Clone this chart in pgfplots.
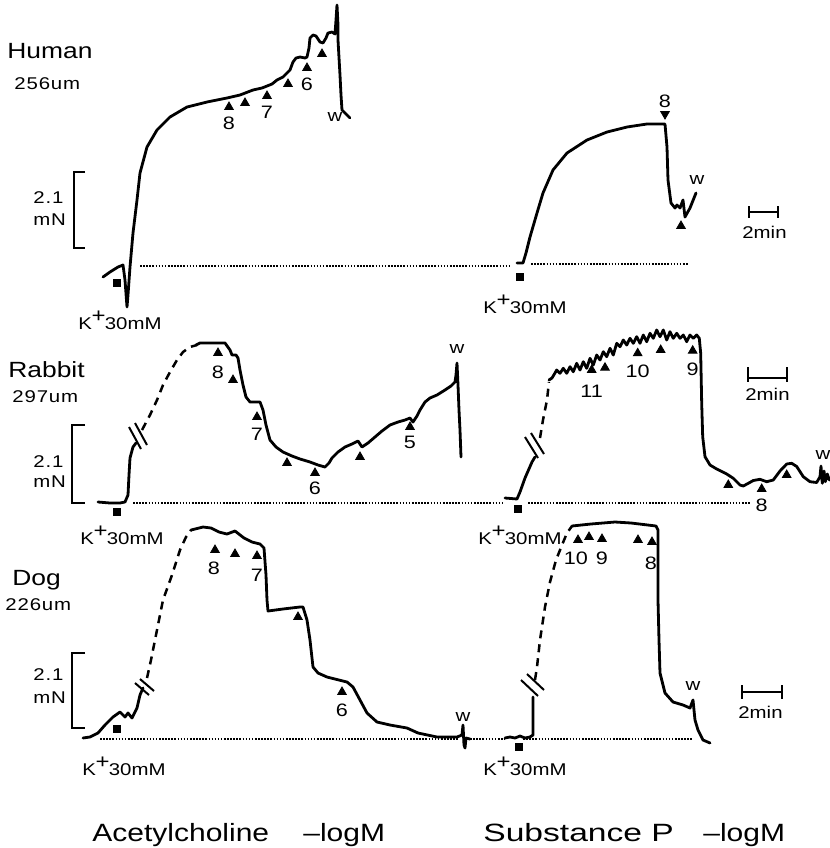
\documentclass[border=0pt]{standalone}
\usepackage{pgfplots}
\pgfplotsset{compat=1.18}
\usepackage{fontspec}
\setmainfont[FakeStretch=1.2]{Liberation Sans}
\newcommand\biglab{\fontsize{11}{11}\selectfont}
\newcommand\sublab{\fontsize{8.5}{8.5}\selectfont\addfontfeature{LetterSpace=5}}
\newcommand\numlab{\fontsize{9}{9}\selectfont}
\newcommand\klab{\fontsize{8.5}{8.5}\selectfont}
\newcommand\wlab{\fontsize{8.5}{8.5}\selectfont}
\newcommand\botlab{\fontsize{12.5}{12.5}\selectfont}
\newcommand\Kplus{K\kern-0.02em\raisebox{0.36em}{\fontsize{10}{10}\selectfont+}\kern-0.05em30mM}
\begin{document}
\begin{tikzpicture}[
  lab/.style={inner sep=0pt, anchor=base west},
  clab/.style={inner sep=0pt, anchor=center},
]
\begin{axis}[
  width=415pt, height=424pt, scale only axis,
  xmin=0, xmax=830, ymin=0, ymax=848, y dir=reverse,
  hide axis, clip=false,
  trace/.style={black, line width=1.4pt, line join=round, line cap=round, mark=none},
  gap/.style={black, line width=1.25pt, dash pattern=on 4pt off 3pt, mark=none},
  base/.style={black, line width=1.0pt, dash pattern=on 0.8pt off 0.75pt, mark=none},
  brk/.style={black, line width=1.0pt, mark=none},
  scl/.style={black, line width=1.3pt, mark=none},
  up/.style={only marks, mark=triangle*, mark size=2.5pt, black},
  down/.style={only marks, mark=triangle*, mark size=2.5pt, black, mark options={rotate=180}},
  sq/.style={only marks, mark=square*, mark size=1.6pt, black},
]

% ---------------- Human ----------------
\addplot[trace] coordinates {(103,277) (110,272) (118,267) (123,265) (125,280) (127,307) (128,295) (130,267) (133,233) (137,200) (140,173) (147,147) (157,130) (170,117) (187,107) (207,102) (227,98) (240,95) (253,90) (262,88) (267,86) (272,84) (277,80) (283,77) (287,73) (290,70) (293,62) (296,58) (300,57) (305,58) (307,57) (309,48) (310,38) (313,35) (316,36) (320,42) (323,43) (326,38) (328,33) (332,32) (335,34) (336,20) (337,5) (338,25) (338,40) (340,75) (341,95) (342,110) (345,113) (350,118)};
\addplot[trace] coordinates {(517,263) (523,263) (526,253) (530,237) (537,213) (543,193) (553,170) (567,153) (587,140) (607,132) (627,127) (647,124) (665,124) (667,147) (668,180) (671,203) (675,208) (677,205) (680,208) (683,200) (685,217) (690,208) (696,193)};
\addplot[base] coordinates {(140,266) (511,266)};
\addplot[base] coordinates {(531,264) (688,264)};
\addplot[up] coordinates {(229,107) (245,103) (267,96) (288,84) (307,68) (322,54) (681,226)};
\addplot[down] coordinates {(665,114)};
\addplot[sq] coordinates {(117,283) (520,277)};
% bracket and time bar
\addplot[scl] coordinates {(85,172) (74,172) (74,248) (85,248)};
\addplot[scl] coordinates {(749,212) (778,212)};
\addplot[scl] coordinates {(749,206) (749,218)};
\addplot[scl] coordinates {(778,206) (778,218)};

% ---------------- Rabbit ----------------
\addplot[trace] coordinates {(98,502) (110,503) (120,503) (125,502) (128,495) (129,475) (130,458) (133,447) (136,443)};
\addplot[gap] coordinates {(142,430) (150,415) (157,400) (163,385) (170,372) (177,360) (183,352) (190,347) (197,345)};
\addplot[trace] coordinates {(196,345) (200,343) (210,343) (225,343) (230,350) (232,355) (236,355) (238,358) (240,370) (243,385) (246,397) (250,402) (256,402) (260,402) (263,410) (266,425) (270,440) (276,447) (283,452) (292,456) (300,459) (310,462) (318,465) (325,467) (329,463) (332,458) (338,452) (345,447) (352,444) (358,441) (362,447) (368,443) (375,437) (382,431) (390,425) (398,422) (405,420) (410,418) (413,422) (417,416) (420,410) (425,402) (430,398) (437,395) (445,390) (451,386) (455,382) (456,375) (457,363) (458,385) (459,410) (460,430) (461,457)};
\addplot[brk] coordinates {(129,427) (141,449)};
\addplot[brk] coordinates {(135,423) (147,445)};
\addplot[trace] coordinates {(505,498) (517,499) (520,492) (525,478) (532,462) (535,457)};
\addplot[brk] coordinates {(525,437) (538,458)};
\addplot[brk] coordinates {(531,433) (544,454)};
\addplot[gap] coordinates {(540,438) (543,420) (547,400) (549,382)};
\addplot[trace] coordinates {(549,380) (552,378) (555,373) (556.7,370) (560,373.3) (563.3,368.3) (566.7,373.3) (570,366.7) (573.3,371.7) (576.7,363.3) (580,370) (583.3,361.7) (586.7,368.3) (590,358.3) (593.3,365) (596.7,355) (600,360) (603.3,351.7) (606.7,356.7) (610,348.3) (613.3,355) (616.7,343.3) (620,346.7) (623.3,340) (626.7,345) (630,338.3) (633.3,343.3) (636.7,336.7) (640,343.3) (643.3,335) (646.7,341.7) (650,333.3) (653.3,338.3) (656.7,330) (660,336.7) (663.3,330) (666.7,340) (670,331.7) (673.3,338.3) (676.7,333.3) (680,338.3) (683.3,335) (686.7,341.7) (690,335) (693.3,338.3) (696.7,335) (699.3,338.3) (700.7,353.3) (701.7,403.3) (702.7,436.7) (705,456.7) (710,465) (716.7,469) (726.7,474) (733.3,478.3) (740,485) (743.3,486) (748.3,483.3) (753.3,480.5) (760,479.3) (766.7,481.7) (773.3,480) (780,471) (786.7,464) (791.7,463.3) (796.7,466.5) (803.3,476.7) (810,481.7) (816.7,482.5) (820,476.7) (821,466) (822.3,483.3) (824,471) (825.3,481.7) (827.3,474) (829.3,480)};
\addplot[base] coordinates {(133,503) (504,503)};
\addplot[base] coordinates {(528,503) (750,503)};
\addplot[up] coordinates {(218,353) (233,380) (257,417) (287,463) (315,473) (360,457) (410,427) (591.7,370) (605,367.7) (637.7,353.3) (660.7,350) (692.7,350.7) (728.3,485) (761.7,489) (786.7,475)};
\addplot[sq] coordinates {(117,512) (518,509)};
\addplot[scl] coordinates {(85,425) (72,425) (72,503) (85,503)};
\addplot[scl] coordinates {(748,378) (787,378)};
\addplot[scl] coordinates {(748,367) (748,382)};
\addplot[scl] coordinates {(787,367) (787,382)};

% ---------------- Dog ----------------
\addplot[trace] coordinates {(83,738) (90,737) (98,733) (105,725) (113,717) (120,712) (125,717) (128,713) (132,718) (137,708) (140,695) (143,688)};
\addplot[brk] coordinates {(135,683) (149,695)};
\addplot[brk] coordinates {(140,679) (154,691)};
\addplot[gap] coordinates {(147,678) (151,660) (157,630) (163,600) (172,575) (180,550) (186,537) (191,530)};
\addplot[trace] coordinates {(191,530) (203,527) (211,528) (219,532) (227,534) (235,531) (244,538) (252,542) (260,544) (264,548) (266,575) (267,600) (268,611) (283,609) (300,607) (303,607) (307,620) (310,640) (313,667) (318,673) (327,677) (347,682) (353,687) (360,700) (367,713) (377,722) (390,725) (407,728) (418,733) (437,737) (457,737) (462,735) (463,725) (464,745) (465,748) (466,738) (470,739)};
\addplot[trace] coordinates {(505,738) (510,737) (515,738) (520,736) (525,738) (530,737) (533,735) (533,697)};
\addplot[brk] coordinates {(521,680) (538,696)};
\addplot[brk] coordinates {(527,674) (544,690)};
\addplot[gap] coordinates {(535,680) (537,667) (540,640) (545,607) (550,582) (556,560) (562,545) (567,533) (572,526)};
\addplot[trace] coordinates {(572,526) (591,524) (615,522) (631,523) (656,526) (658,530) (658,560) (658,600) (659,640) (660,673) (665,693) (673,702) (683,705) (690,708) (693,700) (695,720) (698,730) (703,740) (710,743)};
\addplot[base] coordinates {(100,739) (458,739)};
\addplot[base] coordinates {(470,739) (505,739)};
\addplot[base] coordinates {(523,739) (693,739)};
\addplot[up] coordinates {(215,550) (235,554) (257,556) (298,617) (342,692) (578,540) (589,537) (602,539) (638,540) (652,542)};
\addplot[sq] coordinates {(117,729) (519,747)};
\addplot[scl] coordinates {(85,653) (72,653) (72,728) (85,728)};
\addplot[scl] coordinates {(742,692) (782,692)};
\addplot[scl] coordinates {(742,685) (742,699)};
\addplot[scl] coordinates {(782,685) (782,699)};

% ---------------- text ----------------
\node[lab] at (axis cs:7,58) {\biglab Human};
\node[lab] at (axis cs:14,89) {\sublab 256um};
\node[lab] at (axis cs:33,203) {\sublab 2.1};
\node[lab] at (axis cs:33,225) {\sublab mN};
\node[lab] at (axis cs:8,377) {\biglab Rabbit};
\node[lab] at (axis cs:12,402) {\sublab 297um};
\node[lab] at (axis cs:33,467) {\sublab 2.1};
\node[lab] at (axis cs:33,487) {\sublab mN};
\node[lab] at (axis cs:12,585) {\biglab Dog};
\node[lab] at (axis cs:5,610) {\sublab 226um};
\node[lab] at (axis cs:33,680) {\sublab 2.1};
\node[lab] at (axis cs:33,703) {\sublab mN};

\node[lab] at (axis cs:78,329) {\klab\Kplus};
\node[lab] at (axis cs:483,313) {\klab\Kplus};
\node[lab] at (axis cs:80,544) {\klab\Kplus};
\node[lab] at (axis cs:478,544) {\klab\Kplus};
\node[lab] at (axis cs:82,775) {\klab\Kplus};
\node[lab] at (axis cs:483,775) {\klab\Kplus};

\node[lab] at (axis cs:742,238) {\klab 2min};
\node[lab] at (axis cs:745,400) {\klab 2min};
\node[lab] at (axis cs:738,718) {\klab 2min};

\node[clab] at (axis cs:335,117) {\wlab w};
\node[clab] at (axis cs:697,180) {\wlab w};
\node[clab] at (axis cs:457,349) {\wlab w};
\node[clab] at (axis cs:823,455) {\wlab w};
\node[clab] at (axis cs:463,717) {\wlab w};
\node[clab] at (axis cs:693,686) {\wlab w};

% concentration numbers
\node[clab] at (axis cs:229,123) {\numlab 8};
\node[clab] at (axis cs:267,112) {\numlab 7};
\node[clab] at (axis cs:307,84) {\numlab 6};
\node[clab] at (axis cs:665,101) {\numlab 8};
\node[clab] at (axis cs:218,372) {\numlab 8};
\node[clab] at (axis cs:257,434) {\numlab 7};
\node[clab] at (axis cs:315,488) {\numlab 6};
\node[clab] at (axis cs:410,442) {\numlab 5};
\node[clab] at (axis cs:591.7,391.7) {\numlab 11};
\node[clab] at (axis cs:637.7,371.7) {\numlab 10};
\node[clab] at (axis cs:692.7,369.3) {\numlab 9};
\node[clab] at (axis cs:761.7,505) {\numlab 8};
\node[clab] at (axis cs:214,568) {\numlab 8};
\node[clab] at (axis cs:257,575) {\numlab 7};
\node[clab] at (axis cs:342,710) {\numlab 6};
\node[clab] at (axis cs:576,558) {\numlab 10};
\node[clab] at (axis cs:602,558) {\numlab 9};
\node[clab] at (axis cs:651,563) {\numlab 8};

\node[lab] at (axis cs:92,841) {\botlab Acetylcholine};
\node[lab] at (axis cs:303,841) {\botlab –logM};
\node[lab] at (axis cs:483,841) {\botlab\scalebox{1.12}[1]{Substance P}};
\node[lab] at (axis cs:703,841) {\botlab –logM};
\end{axis}
\pgfresetboundingbox
\path (current axis.south west) rectangle (current axis.north east);
\end{tikzpicture}
\end{document}
